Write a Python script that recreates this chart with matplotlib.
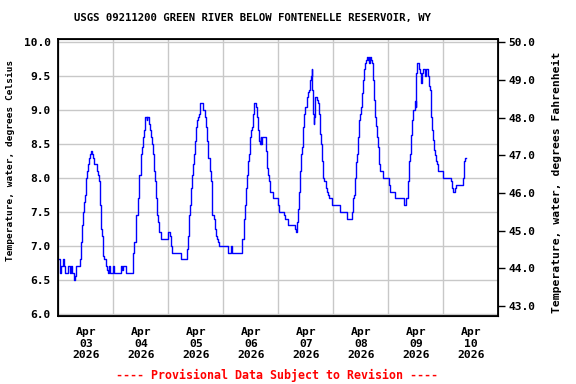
import matplotlib
matplotlib.use('Agg')
import matplotlib.pyplot as plt
import matplotlib.dates as mdates
from datetime import datetime, timedelta

# ── data: hours since 2026-04-03 00:00, water temperature (deg C) ──────────
hours = [0.0, 0.8, 1.3, 1.9, 2.4, 2.9, 4.4, 4.9, 5.4, 5.8, 6.9, 7.3, 7.7,
         9.3, 9.7, 10.1, 10.5, 10.9, 11.3, 11.7, 12.2, 12.6, 13.1, 13.5, 13.9,
         14.3, 14.7, 15.1, 15.5, 16.7, 17.2, 17.6, 18.0, 18.5, 18.9, 19.3, 19.7,
         20.1, 20.6, 21.0, 21.4, 21.8, 22.3, 22.7, 24.0, 24.4, 27.5, 28.0, 28.3,
         29.6, 32.4, 32.8, 33.2, 33.7, 34.1, 34.6, 35.0, 35.4, 35.9, 36.3, 36.7,
         37.1, 37.5, 37.9, 38.5, 38.9, 39.6, 40.0, 40.3, 40.8, 41.3, 41.8, 42.2,
         42.6, 43.1, 43.5, 43.9, 44.7, 47.7, 48.7, 49.2, 49.8, 53.7, 56.3, 56.7,
         57.2, 57.6, 58.0, 58.5, 58.9, 59.4, 59.8, 60.2, 60.7, 61.1, 61.5, 62.0,
         63.1, 63.9, 64.4, 64.9, 65.5, 66.0, 66.8, 67.2, 67.8, 68.2, 68.7, 69.1,
         69.7, 70.1, 74.1, 75.4, 75.8, 80.0, 80.4, 80.9, 81.3, 81.8, 82.2, 82.6,
         83.1, 83.5, 83.9, 84.4, 84.8, 85.2, 86.4, 86.9, 87.3, 87.7, 88.0, 88.3,
         88.6, 88.9, 90.8, 91.2, 91.6, 92.1, 92.5, 93.5, 95.7, 96.2, 98.3, 98.8,
         100.4, 103.3, 103.7, 104.0, 104.3, 104.7, 105.2, 105.6, 106.0, 106.5,
         106.9, 107.4, 107.8, 108.4, 108.8, 109.4, 109.8, 110.3, 110.6, 110.7,
         111.0, 111.4, 111.7, 112.0, 112.7, 113.2, 113.6, 114.3, 114.8, 115.2,
         115.6, 116.1, 116.7, 117.1, 117.5, 118.0, 119.4, 122.9, 126.0, 128.2,
         128.6, 128.9, 129.3, 129.8, 130.2, 130.6, 131.1, 131.5, 131.9, 132.4,
         132.8, 133.2, 133.7, 134.1, 134.6, 135.0, 135.4, 135.7, 136.0, 136.4,
         136.7, 137.2, 137.6, 138.0, 138.5, 138.9, 139.4, 139.8, 140.1, 140.5,
         141.5, 144.4, 144.7, 146.9, 150.8, 151.9, 152.5, 152.7, 153.2, 153.6,
         154.0, 154.5, 154.9, 155.6, 155.9, 156.2, 156.7, 157.4, 157.8, 158.1,
         158.6, 159.3, 160.2, 160.4, 161.3, 161.6, 162.2, 162.5, 162.9, 163.4,
         163.8, 164.2, 164.7, 165.1, 165.5, 166.3, 168.0, 171.4, 171.8, 172.2,
         173.1, 173.5, 176.6, 176.9, 177.2, 177.6, 177.8]
temp_c = [6.8, 6.6, 6.7, 6.8, 6.7, 6.6, 6.7, 6.6, 6.7, 6.6, 6.5, 6.55, 6.7,
          6.8, 6.95, 7.05, 7.3, 7.5, 7.65, 7.75, 8.0, 8.1, 8.2, 8.3, 8.35,
          8.4, 8.35, 8.3, 8.2, 8.1, 8.05, 7.95, 7.6, 7.25, 7.15, 7.0, 6.85,
          6.8, 6.75, 6.7, 6.65, 6.6, 6.7, 6.6, 6.7, 6.6, 6.7, 6.65, 6.7,
          6.6, 6.8, 6.9, 7.05, 7.2, 7.45, 7.7, 7.95, 8.05, 8.2, 8.35, 8.45,
          8.6, 8.7, 8.9, 8.85, 8.9, 8.8, 8.7, 8.6, 8.5, 8.35, 8.1, 7.95,
          7.7, 7.45, 7.35, 7.2, 7.1, 7.2, 7.15, 7.0, 6.9, 6.8, 6.95, 7.15,
          7.45, 7.6, 7.85, 8.05, 8.2, 8.35, 8.55, 8.75, 8.85, 8.9, 8.95, 9.1,
          9.0, 8.9, 8.75, 8.55, 8.3, 8.1, 7.95, 7.45, 7.4, 7.25, 7.15, 7.1,
          7.05, 7.0, 6.9, 7.0, 6.9, 7.1, 7.1, 7.4, 7.6, 7.85, 8.05, 8.25,
          8.35, 8.6, 8.7, 8.75, 8.95, 9.1, 9.05, 8.9, 8.7, 8.55, 8.5, 8.6,
          8.5, 8.6, 8.4, 8.15, 8.05, 7.95, 7.8, 7.7, 7.6, 7.5, 7.45, 7.4,
          7.3, 7.25, 7.2, 7.3, 7.35, 7.55, 7.8, 8.1, 8.35, 8.45,
          8.75, 8.95, 9.05, 9.2, 9.27, 9.3, 9.45, 9.5, 9.6, 9.3,
          8.95, 8.8, 8.9, 9.2, 9.15, 9.1, 8.95, 8.65, 8.5, 8.25,
          8.0, 7.95, 7.85, 7.8, 7.75, 7.7, 7.6, 7.5, 7.4, 7.5,
          7.7, 7.75, 8.0, 8.24, 8.35, 8.6, 8.85, 8.95, 9.04, 9.25,
          9.45, 9.6, 9.7, 9.74, 9.79, 9.74, 9.79, 9.7, 9.79, 9.74,
          9.7, 9.45, 9.15, 8.9, 8.76, 8.6, 8.46, 8.25, 8.2, 8.1,
          8.0, 7.9, 7.8, 7.7, 7.6, 7.7, 7.8, 7.95, 8.25, 8.35,
          8.64, 8.85, 9.0, 9.13, 9.05, 9.54, 9.69, 9.6, 9.54, 9.4,
          9.54, 9.6, 9.5, 9.6, 9.5, 9.35, 9.3, 8.9, 8.7, 8.56,
          8.41, 8.34, 8.25, 8.2, 8.1, 8.1, 8.0, 7.95, 7.85, 7.8,
          7.85, 7.9, 8.0, 8.15, 8.25, 8.3, 8.3]

start = datetime(2026, 4, 3)
end = datetime(2026, 4, 11)
times = [start + timedelta(hours=h) for h in hours]

c_lo, c_hi = 5.966, 10.044
c_ticks = [6.0, 6.5, 7.0, 7.5, 8.0, 8.5, 9.0, 9.5, 10.0]
f_ticks = [43, 44, 45, 46, 47, 48, 49, 50]

title = 'USGS 09211200 GREEN RIVER BELOW FONTENELLE RESERVOIR, WY'
footer = '---- Provisional Data Subject to Revision ----'
ylabel_c = 'Temperature, water, degrees Celsius'
ylabel_f = 'Temperature, water, degrees Fahrenheit'

plt.rcParams['font.family'] = 'DejaVu Sans Mono'
plt.rcParams['font.weight'] = 'bold'
plt.rcParams['font.size'] = 8

W, H = 576, 384
fig = plt.figure(figsize=(W / 100, H / 100), dpi=100)
ax = fig.add_axes([58.3 / W, 1 - 316 / H, 440 / W, (316 - 39.3) / H])

ax.plot(times, temp_c, color='#0000ff', lw=1.0, drawstyle='steps-post', zorder=3)

ax.set_xlim(start, end)
ax.set_ylim(c_lo, c_hi)
ax.set_yticks(c_ticks)
ax.set_yticklabels([f'{v:.1f}' for v in c_ticks])
ax.tick_params(axis='y', length=0, pad=5.5, labelsize=8.1)

ax.xaxis.set_major_locator(mdates.DayLocator())
ax.xaxis.set_major_formatter(plt.NullFormatter())
ax.xaxis.set_minor_locator(mdates.HourLocator(byhour=[12]))
ax.xaxis.set_minor_formatter(mdates.DateFormatter('%b\n%d\n%Y'))
ax.tick_params(axis='x', which='both', length=0, pad=8, labelsize=8.2)

ax.grid(True, which='major', color='#c8c8c8', lw=1.0)
ax.set_axisbelow(True)
for s in ax.spines.values():
    s.set_linewidth(1.3)

ax2 = ax.twinx()
ax2.set_ylim(c_lo * 1.8 + 32, c_hi * 1.8 + 32)
ax2.set_yticks(f_ticks)
ax2.set_yticklabels([f'{v:.1f}' for v in f_ticks])
ax2.tick_params(axis='y', length=5, width=1, pad=2, labelsize=8.1)

fig.text(11 / W, 1 - 160 / H, ylabel_c, rotation=90, ha='center', va='center',
         fontsize=6.8)
fig.text(557 / W, 1 - 182 / H, ylabel_f, rotation=90, ha='center', va='center',
         fontsize=8.2)
fig.text(252 / W, 1 - 18 / H, title, ha='center', va='center', fontsize=7.7)
fig.text(277 / W, 1 - 375 / H, footer, ha='center', va='center',
         fontsize=8.4, color='#ff0000')

fig.savefig('out.png', dpi=100)
